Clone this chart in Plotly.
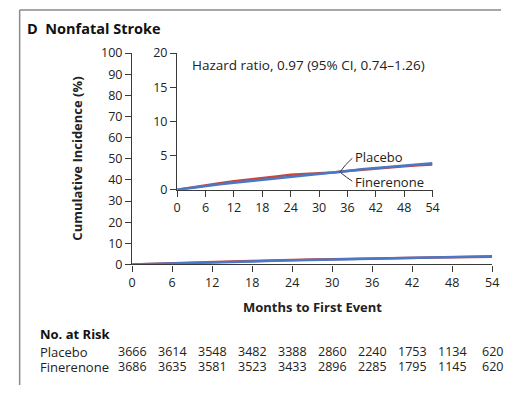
import plotly.graph_objects as go

# Cumulative incidence (%) of nonfatal stroke by month
months = [0, 3, 6, 9, 12, 15, 18, 21, 24, 27, 30, 33, 36, 39, 42, 45, 48, 51, 54]
placebo = [0, 0.35, 0.7, 0.95, 1.25, 1.45, 1.65, 1.95, 2.2, 2.3, 2.45, 2.55, 2.75,
           2.95, 3.15, 3.3, 3.45, 3.6, 3.7]
finerenone = [0, 0.3, 0.55, 0.8, 1.05, 1.25, 1.45, 1.7, 1.9, 2.1, 2.3, 2.5, 2.75,
              3.0, 3.2, 3.4, 3.55, 3.75, 3.9]

# Numbers at risk
risk_months = [0, 6, 12, 18, 24, 30, 36, 42, 48, 54]
risk_placebo = [3666, 3614, 3548, 3482, 3388, 2860, 2240, 1753, 1134, 620]
risk_finerenone = [3686, 3635, 3581, 3523, 3433, 2896, 2285, 1795, 1145, 620]

x_ticks = [0, 6, 12, 18, 24, 30, 36, 42, 48, 54]
main_y_ticks = [0, 10, 20, 30, 40, 50, 60, 70, 80, 90, 100]
inset_y_ticks = [0, 5, 10, 15, 20]

W, H = 508, 393
RED = "#c5473d"
BLUE = "#4a78c8"
AXIS = "#3a3a3a"
TXT = "#222222"
FONT = "Open Sans"


def px(x):
    return x / W


def py(y):
    return 1 - y / H


fig = go.Figure()

# main panel
fig.add_trace(go.Scatter(x=months, y=placebo, mode="lines",
                         line=dict(color=RED, width=2.5), xaxis="x", yaxis="y"))
fig.add_trace(go.Scatter(x=months, y=finerenone, mode="lines",
                         line=dict(color=BLUE, width=2.5), xaxis="x", yaxis="y"))
# inset panel
fig.add_trace(go.Scatter(x=months, y=placebo, mode="lines",
                         line=dict(color=RED, width=2.5), xaxis="x2", yaxis="y2"))
fig.add_trace(go.Scatter(x=months, y=finerenone, mode="lines",
                         line=dict(color=BLUE, width=2.5), xaxis="x2", yaxis="y2"))

axis_common = dict(showline=True, linecolor=AXIS, linewidth=1.3, ticks="outside",
                   ticklen=6, tickwidth=1.3, tickcolor=AXIS, showgrid=False,
                   zeroline=False, tickfont=dict(family=FONT, size=12.5, color=TXT))

fig.update_layout(
    width=W, height=H, margin=dict(l=0, r=0, t=0, b=0),
    paper_bgcolor="white", plot_bgcolor="rgba(0,0,0,0)", showlegend=False,
    font=dict(family=FONT, color=TXT),
    xaxis=dict(domain=[px(131), px(499)], range=[0, 54], tickvals=x_ticks,
               anchor="y", **axis_common),
    yaxis=dict(domain=[py(267), py(46)], range=[0, 100], tickvals=main_y_ticks,
               anchor="x", **axis_common),
    xaxis2=dict(domain=[px(177), px(438)], range=[0, 54], tickvals=x_ticks,
                anchor="y2", **axis_common),
    yaxis2=dict(domain=[py(189), py(46)], range=[0, 20], tickvals=inset_y_ticks,
                anchor="x2", **axis_common),
)


def label(x, y, text, size, xanchor="left", **kw):
    return dict(x=px(x), y=py(y), xref="paper", yref="paper", xanchor=xanchor,
                yanchor="middle", showarrow=False, text=text,
                font=dict(family=FONT, size=size, color=kw.pop("color", TXT)), **kw)


ann = [
    label(21, 20, "<b>D</b>  <b>Nonfatal Stroke</b>", 14.5, color="#111"),
    label(75, 156, "<b>Cumulative Incidence (%)</b>", 13, xanchor="center", textangle=-90),
    label(315, 311, "<b>Months to First Event</b>", 13, xanchor="center"),
    label(190, 59, "Hazard ratio, 0.97 (95% CI, 0.74\u20131.26)", 13.5),
    label(357, 155, "Placebo", 13),
    label(357, 181, "Finerenone", 13),
    label(35, 340, "<b>No. at Risk</b>", 13, color="#111"),
]

# number-at-risk table
for name, row, yy in (("Placebo", risk_placebo, 358), ("Finerenone", risk_finerenone, 374)):
    ann.append(label(35, yy, name, 13))
    for m, n in zip(risk_months, row):
        ann.append(dict(x=m, y=py(yy), xref="x", yref="paper", xanchor="center",
                        yanchor="middle", showarrow=False, text=str(n),
                        font=dict(family=FONT, size=12.5, color=TXT)))
fig.update_layout(annotations=ann)

shapes = [
    # panel frame
    dict(type="line", xref="paper", yref="paper", x0=px(16), x1=px(16), y0=py(1), y1=0,
         line=dict(color="#8a8a8a", width=1.5)),
    dict(type="line", xref="paper", yref="paper", x0=px(16), x1=1, y0=py(1), y1=py(1),
         line=dict(color="#8a8a8a", width=1.5)),
    # leader lines to the curve labels
    dict(type="path", xref="paper", yref="paper",
         path=f"M {px(343)} {py(171)} Q {px(349)} {py(162)} {px(356)} {py(156)}",
         line=dict(color=AXIS, width=1)),
    dict(type="path", xref="paper", yref="paper",
         path=f"M {px(344)} {py(171)} Q {px(350)} {py(176)} {px(356)} {py(180)}",
         line=dict(color=AXIS, width=1)),
]
fig.update_layout(shapes=shapes)

fig.write_html("out.html")
